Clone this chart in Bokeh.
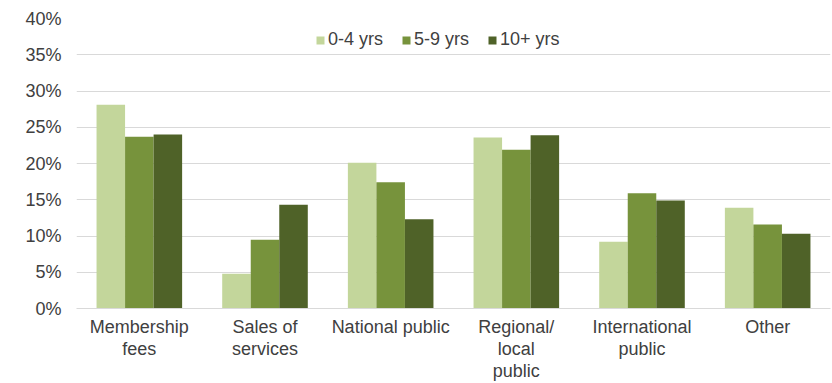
from bokeh.plotting import figure
from bokeh.models import ColumnDataSource, FactorRange, Range1d, Legend, LegendItem, NumeralTickFormatter, FixedTicker
from bokeh.transform import dodge
from bokeh.embed import file_html
from bokeh.resources import INLINE

categories = ["Membership\nfees", "Sales of\nservices", "National public",
              "Regional/\nlocal\npublic", "International\npublic", "Other"]
series_names = ["0-4 yrs", "5-9 yrs", "10+ yrs"]
yrs_0_4 = [28.1, 4.8, 20.1, 23.6, 9.2, 13.9]
yrs_5_9 = [23.7, 9.5, 17.4, 21.9, 15.9, 11.6]
yrs_10p = [24.0, 14.3, 12.3, 23.9, 14.9, 10.3]
y_ticks = [0, 5, 10, 15, 20, 25, 30, 35, 40]

colors = ["#c3d69b", "#77933c", "#4f6228"]

src = ColumnDataSource(dict(cat=categories, a=[v / 100 for v in yrs_0_4],
                            b=[v / 100 for v in yrs_5_9], c=[v / 100 for v in yrs_10p]))

p = figure(width=832, height=383, x_range=FactorRange(*categories),
           y_range=Range1d(0, 0.40), output_backend="svg", toolbar_location=None,
           min_border_left=76, min_border_right=2, min_border_top=18, min_border_bottom=75)
p.outline_line_color = None
p.background_fill_color = "white"
p.border_fill_color = "white"

w = 0.227
renderers = []
for col, off, colr in zip(["a", "b", "c"], [-w, 0, w], colors):
    r = p.vbar(x=dodge("cat", off, range=p.x_range), top=col, width=w, source=src,
               fill_color=colr, line_color=None)
    renderers.append(r)

p.x_range.range_padding = 0
p.xgrid.grid_line_color = None
p.ygrid.grid_line_color = "#d9d9d9"
p.ygrid.grid_line_width = 1
p.yaxis.ticker = FixedTicker(ticks=[t / 100 for t in y_ticks])
p.yaxis.formatter = NumeralTickFormatter(format="0%")

for ax in [p.xaxis[0], p.yaxis[0]]:
    ax.major_tick_line_color = None
    ax.minor_tick_line_color = None
    ax.major_tick_out = 0
    ax.major_tick_in = 0
    ax.minor_tick_out = 0
    ax.minor_tick_in = 0
    ax.major_label_text_font = "Liberation Sans"
    ax.major_label_text_font_size = "18px"
    ax.major_label_text_color = "#404040"
p.yaxis.axis_line_color = None
p.xaxis.axis_line_color = "#d9d9d9"
p.yaxis.major_label_standoff = 15
p.xaxis.major_label_standoff = 8
p.xaxis.major_label_text_line_height = 1.1

legend = Legend(items=[LegendItem(label=n, renderers=[r]) for n, r in zip(series_names, renderers)],
                orientation="horizontal", location=(239, 258),
                glyph_width=10, glyph_height=10, label_text_font="Liberation Sans",
                label_text_font_size="18px", label_text_color="#404040",
                border_line_color=None, background_fill_alpha=1.0,
                spacing=18, padding=0, margin=0, label_standoff=3)
p.add_layout(legend, "center")

open("out.html", "w").write(file_html(p, INLINE))
